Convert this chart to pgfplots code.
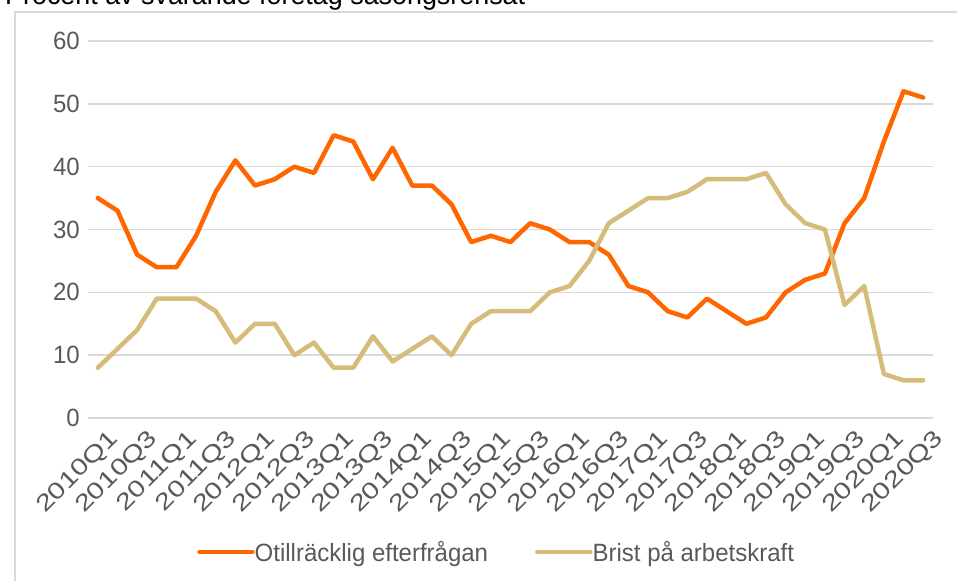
\documentclass[border=0pt]{standalone}
\usepackage{fontspec}
\setmainfont{Liberation Sans}[FakeStretch=0.96]
\newfontfamily\tickfont{Liberation Sans}[FakeStretch=1.28]
\usepackage{pgfplots}
\pgfplotsset{compat=1.18}
\definecolor{orng}{HTML}{FF6600}
\definecolor{brist}{HTML}{D6BC7A}
\definecolor{gridc}{HTML}{D9D9D9}
\definecolor{txt}{HTML}{595959}
\pgfplotstableread{
x o b
0 35 8
1 33 11
2 26 14
3 24 19
4 24 19
5 29 19
6 36 17
7 41 12
8 37 15
9 38 15
10 40 10
11 39 12
12 45 8
13 44 8
14 38 13
15 43 9
16 37 11
17 37 13
18 34 10
19 28 15
20 29 17
21 28 17
22 31 17
23 30 20
24 28 21
25 28 25
26 26 31
27 21 33
28 20 35
29 17 35
30 16 36
31 19 38
32 17 38
33 15 38
34 16 39
35 20 34
36 22 31
37 23 30
38 31 18
39 35 21
40 44 7
41 52 6
42 51 6
}\data
\begin{document}
\begin{tikzpicture}
\node[anchor=base west, inner sep=0pt, font=\fontsize{28bp}{33bp}\selectfont, text=black] at (5bp,-4.5bp) {Procent av svarande företag säsongsrensat};
\draw[gridc, line width=1.5bp] (15bp,-12bp) rectangle (980bp,-600bp);
\begin{axis}[
  at={(88bp,-418bp)}, anchor=south west,
  scale only axis, width=845bp, height=377bp,
  xmin=-0.5, xmax=42.5, ymin=0, ymax=60,
  ytick={0,10,...,60},
  xtick={0,2,...,42},
  xticklabels={2010Q1,2010Q3,2011Q1,2011Q3,2012Q1,2012Q3,2013Q1,2013Q3,2014Q1,2014Q3,2015Q1,2015Q3,2016Q1,2016Q3,2017Q1,2017Q3,2018Q1,2018Q3,2019Q1,2019Q3,2020Q1,2020Q3},
  axis line style={draw=none},
  major tick length=0pt,
  ymajorgrids, grid style={gridc, line width=1.5bp},
  /pgf/number format/assume math mode=true,
  tick label style={font=\fontsize{25bp}{30bp}\selectfont, text=txt, inner sep=0pt},
  yticklabel style={xshift=-8bp},
  xticklabel style={font=\tickfont\fontsize{23bp}{28bp}\selectfont, rotate=45, anchor=north east, xshift=0bp, yshift=-14bp},
  legend style={at={(axis description cs:0.129,-0.3554)}, anchor=west, draw=none, fill=none, inner sep=0pt,
    nodes={inner sep=0pt, text=txt, font=\fontsize{25bp}{30bp}\selectfont},
    column sep=0bp, /tikz/every even column/.append style={column sep=47bp}},
  legend columns=2,
  legend image code/.code={\draw[#1, line cap=round] (0bp,0bp) -- (53bp,0bp);},
]
\addplot[orng, line width=4.5bp, line join=round, line cap=round] table[x=x,y=o] {\data};
\addlegendentry{Otillräcklig efterfrågan}
\addplot[brist, line width=4.5bp, line join=round, line cap=round] table[x=x,y=b] {\data};
\addlegendentry{Brist på arbetskraft}
\end{axis}
\pgfresetboundingbox
\path[use as bounding box] (0bp,0bp) rectangle (957bp,-581bp);
\end{tikzpicture}
\end{document}
